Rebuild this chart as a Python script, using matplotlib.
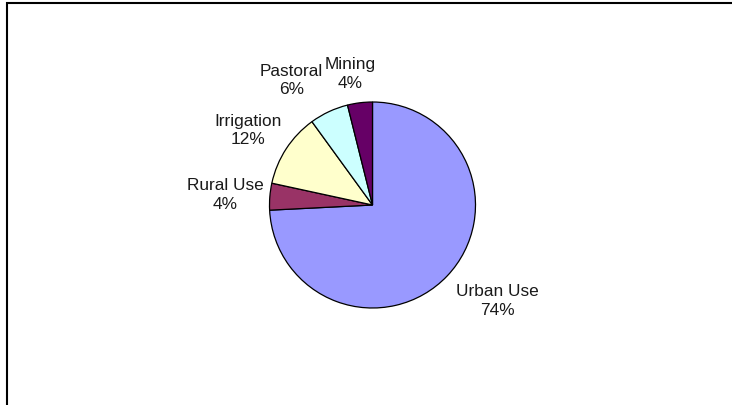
import matplotlib.pyplot as plt
from matplotlib.patches import Rectangle

# water use shares (%), clockwise from 12 o'clock
categories = ['Urban Use', 'Rural Use', 'Irrigation', 'Pastoral', 'Mining']
values = [74.2, 4.2, 11.6, 6.1, 3.9]
colors = ['#9999FF', '#993366', '#FFFFCC', '#CCFFFF', '#660066']

# label centres in pie units (radius = 1), Excel style placement
label_pos = [(1.209, -0.932), (-1.427, 0.097), (-1.209, 0.723),
             (-0.784, 1.209), (-0.215, 1.274)]

plt.rcParams['font.family'] = ['Liberation Sans', 'DejaVu Sans']

W, H = 732, 405
cx, cy, r = 372.5, 205, 103  # pie centre / radius in pixels

fig = plt.figure(figsize=(W / 100, H / 100), dpi=100)
ax = fig.add_axes([0, 0, 1, 1])

ax.pie(values, colors=colors, startangle=90, counterclock=False,
       wedgeprops={'edgecolor': 'black', 'linewidth': 0.9})

total = sum(values)
for name, v, (x, y) in zip(categories, values, label_pos):
    ax.text(x, y, f'{name}\n{round(v / total * 100)}%', ha='center',
            va='center', fontsize=12.4, linespacing=1.32, color='#1a1a1a')

ax.set_xlim(-cx / r, (W - cx) / r)
ax.set_ylim((cy - H) / r, cy / r)
ax.set_aspect('auto')
ax.axis('off')

# chart area frame (right and bottom edges sit outside the picture)
fig.patches.append(Rectangle((7.5 / W, -0.1), 2, 1.1 - 3.5 / H,
                             transform=fig.transFigure, fill=False,
                             edgecolor='black', linewidth=1.5))

fig.savefig('out.png', dpi=100)
